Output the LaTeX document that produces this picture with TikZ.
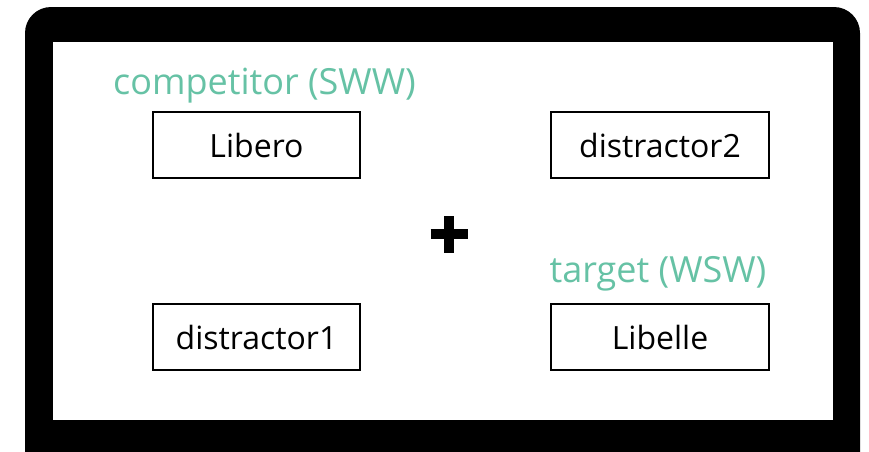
\documentclass[tikz,border=0pt]{standalone}
\usepackage{fontspec}
\setmainfont{Open Sans}
\usepackage{tikz}
\usetikzlibrary{positioning}
\definecolor{rolegreen}{HTML}{66C2A5}

\begin{document}
\begin{tikzpicture}[x=1pt,y=-1pt,
    word/.style={draw, line width=1.4pt, minimum width=207pt, minimum height=66pt,
      inner sep=0pt, font=\fontsize{32}{32}\selectfont},
    role/.style={text=rolegreen, inner sep=0pt, font=\fontsize{36}{36}\selectfont}]
      \useasboundingbox (0,0) rectangle (869,451);
      % screen
      \fill[black, rounded corners=26pt] (25,7) rectangle (860,500);
      \fill[white] (53,42) rectangle (833,420);
      \node[word] (lib)  at (256.5,145) {Libero};
      \node[word, minimum width=218pt] (dis2) at (660,145) {distractor2};
      \node[word] (dis1) at (256.5,337) {distractor1};
      \node[word, minimum width=218pt] (lbl)  at (660,337) {Libelle};
      \node[role, above=8pt of lib.north, xshift=8pt] (comp) {competitor (SWW)};
      \node[role, above=12pt of lbl.north, xshift=-2pt] (targ) {target (WSW)};
      % fixation cross
      \coordinate (fix) at (449,234);
      \draw[line width=10pt] ([xshift=-18.5pt]fix) -- ([xshift=18.5pt]fix)
                             ([yshift=-18.5pt]fix) -- ([yshift=18.5pt]fix);
    \end{tikzpicture}
\end{document}
